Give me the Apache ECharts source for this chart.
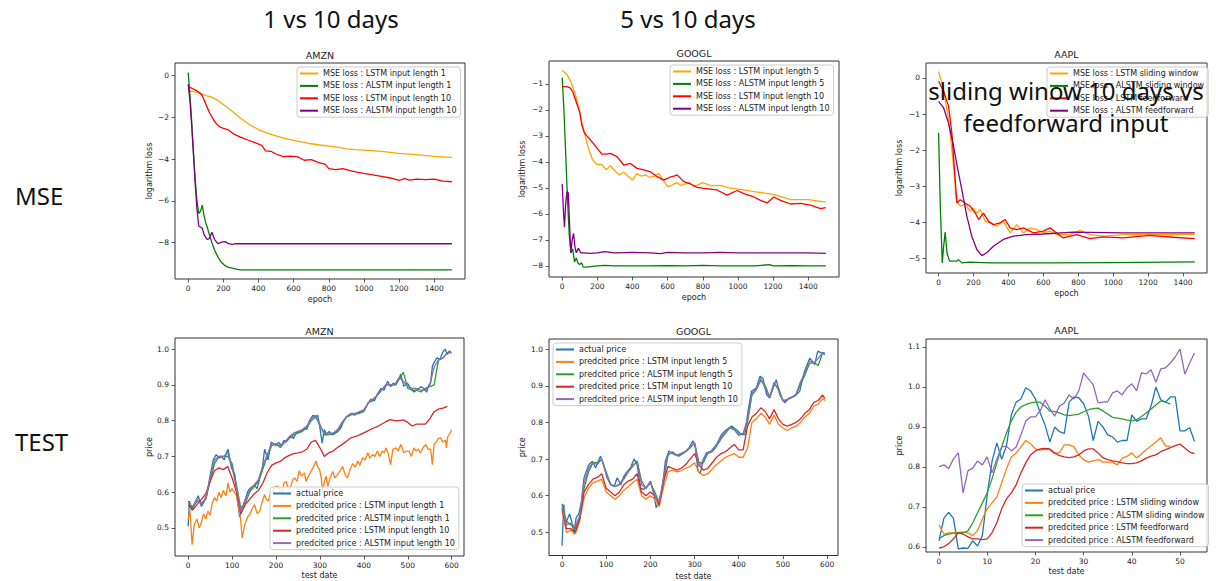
<!DOCTYPE html>
<html><head><meta charset="utf-8">
<script src="https://cdn.jsdelivr.net/npm/echarts@6/dist/echarts.min.js"></script>
<style>html,body{margin:0;padding:0;background:#fff}#c{width:1216px;height:581px}</style>
</head><body><div id="c"></div>
<script>
// ---------------- tick labels ----------------
const mseEpochTicks = [0,200,400,600,800,1000,1200,1400];
const amznMseYTicks = [0,-2,-4,-6,-8];
const googMseYTicks = [-1,-2,-3,-4,-5,-6,-7,-8];
const aaplMseYTicks = [0,-1,-2,-3,-4,-5];
const testDayTicks = [0,100,200,300,400,500,600];
const priceTicks = [0.5,0.6,0.7,0.8,0.9,1.0];
const aaplDayTicks = [0,10,20,30,40,50];
const aaplPriceTicks = [0.6,0.7,0.8,0.9,1.0,1.1];

// ---------------- AMZN MSE ----------------
const amznMseLstm1Epoch = [0,25,50,75,100,125,150,175,200,250,300,350,400,450,500,550,600,650,700,750,800,850,900,950,1000,1100,1200,1300,1400,1500];
const amznMseLstm1 = [-0.72,-0.75,-0.8,-0.86,-0.95,-1.0,-1.1,-1.22,-1.38,-1.7,-2.05,-2.35,-2.58,-2.75,-2.88,-3.0,-3.1,-3.18,-3.26,-3.32,-3.37,-3.42,-3.5,-3.54,-3.56,-3.62,-3.72,-3.78,-3.86,-3.91];
const amznMseAlstm1Epoch = [0,10,20,30,40,50,60,70,80,90,100,110,120,135,150,170,190,210,230,250,280,300,400,600,800,1000,1200,1400,1500];
const amznMseAlstm1 = [0.15,-0.9,-2.2,-3.6,-5.0,-6.0,-6.6,-6.5,-6.2,-6.7,-7.05,-7.3,-7.6,-8.0,-8.35,-8.7,-8.95,-9.1,-9.18,-9.22,-9.28,-9.3,-9.3,-9.3,-9.3,-9.3,-9.3,-9.3,-9.3];
const amznMseLstm10Epoch = [0,20,40,60,80,100,120,140,160,180,200,230,260,300,340,380,420,440,470,500,540,580,620,660,700,740,780,800,840,880,920,960,1000,1050,1100,1150,1200,1230,1260,1300,1350,1400,1450,1500];
const amznMseLstm10 = [-0.5,-0.6,-0.68,-0.78,-0.95,-1.35,-1.75,-2.05,-2.3,-2.45,-2.52,-2.6,-2.8,-2.95,-3.08,-3.2,-3.35,-3.6,-3.62,-3.75,-3.88,-3.85,-3.88,-4.05,-4.02,-4.15,-4.25,-4.45,-4.5,-4.45,-4.55,-4.62,-4.68,-4.75,-4.82,-4.9,-5.02,-4.93,-5.0,-4.95,-4.98,-4.95,-5.05,-5.08];
const amznMseAlstm10Epoch = [0,10,20,30,40,50,60,70,80,90,100,110,120,135,150,170,190,210,230,250,270,300,400,600,800,1000,1200,1400,1500];
const amznMseAlstm10 = [-0.4,-1.2,-2.4,-3.8,-5.2,-6.4,-7.2,-7.25,-7.3,-7.6,-7.75,-7.85,-7.8,-7.5,-7.85,-8.05,-7.97,-7.95,-8.05,-8.08,-8.05,-8.05,-8.05,-8.05,-8.05,-8.05,-8.05,-8.05,-8.05];

// ---------------- GOOGL MSE ----------------
const googMseLstm5Epoch = [0,25,50,75,100,125,150,175,200,225,250,275,300,325,350,375,400,425,450,475,500,525,550,575,600,625,650,675,700,725,750,800,850,900,950,1000,1050,1100,1150,1200,1250,1300,1350,1400,1450,1500];
const googMseLstm5 = [-0.48,-0.62,-0.92,-1.4,-2.1,-2.85,-3.5,-3.95,-4.1,-4.1,-4.3,-4.15,-4.35,-4.5,-4.4,-4.55,-4.7,-4.45,-4.55,-4.5,-4.6,-4.55,-4.45,-4.7,-4.95,-4.9,-4.8,-4.9,-4.85,-4.8,-4.95,-4.8,-4.92,-4.9,-5.0,-5.05,-5.1,-5.15,-5.2,-5.25,-5.35,-5.45,-5.45,-5.45,-5.5,-5.55];
const googMseAlstm5Epoch = [0,10,20,30,40,50,60,70,80,90,100,110,120,140,160,200,240,300,400,500,600,700,800,900,1000,1100,1180,1200,1300,1400,1500];
const googMseAlstm5 = [-0.75,-2.0,-3.7,-5.4,-6.8,-7.5,-7.35,-7.85,-7.7,-7.9,-7.95,-7.88,-8.05,-8.05,-8.03,-8.0,-7.98,-8.0,-8.0,-8.0,-7.99,-8.0,-7.98,-8.0,-8.0,-8.0,-7.95,-8.0,-7.99,-8.0,-8.0];
const googMseLstm10Epoch = [0,25,45,60,75,90,100,112,125,140,160,178,207,226,250,274,312,350,388,426,464,502,540,578,610,635,654,692,730,767,805,881,938,995,1033,1090,1128,1166,1204,1242,1299,1356,1413,1470,1500];
const googMseLstm10 = [-1.1,-1.1,-1.15,-1.3,-1.6,-1.9,-2.1,-2.6,-2.85,-3.0,-3.15,-3.3,-3.55,-3.7,-3.7,-3.67,-3.8,-4.12,-4.06,-4.25,-4.31,-4.38,-4.57,-4.7,-4.6,-4.55,-4.5,-4.76,-4.85,-4.98,-5.02,-5.08,-5.28,-5.1,-5.22,-5.35,-5.48,-5.58,-5.35,-5.48,-5.62,-5.6,-5.66,-5.8,-5.76];
const googMseAlstm10Epoch = [0,8,13,20,27,35,42,49,57,65,72,80,93,105,120,160,200,240,300,400,500,560,600,700,800,900,1000,1100,1200,1300,1400,1500];
const googMseAlstm10 = [-4.85,-6.0,-6.5,-5.6,-5.15,-5.2,-6.4,-7.5,-7.0,-6.75,-7.25,-7.5,-7.32,-7.5,-7.5,-7.52,-7.5,-7.45,-7.5,-7.48,-7.5,-7.53,-7.48,-7.5,-7.5,-7.48,-7.5,-7.5,-7.5,-7.5,-7.5,-7.52];

// ---------------- AAPL MSE ----------------
const aaplMseLstmSwEpoch = [0,29,57,86,101,124,152,181,200,219,238,267,295,333,371,410,448,486,524,562,600,638,676,752,810,867,943,1057,1248,1467];
const aaplMseLstmSw = [0.18,-0.32,-1.15,-2.44,-3.37,-3.55,-3.5,-3.69,-3.6,-3.74,-3.64,-3.97,-4.01,-4.1,-3.97,-4.29,-4.06,-4.29,-4.15,-4.2,-4.29,-4.24,-4.34,-4.34,-4.22,-4.34,-4.38,-4.34,-4.34,-4.34];
const aaplMseAlstmSwEpoch = [0,10,21,29,38,48,63,105,114,133,181,295,600,1000,1467];
const aaplMseAlstmSw = [-1.52,-3.55,-5.12,-4.66,-4.27,-4.84,-5.07,-5.07,-5.03,-5.12,-5.1,-5.12,-5.12,-5.11,-5.09];
const aaplMseLstmFfEpoch = [0,29,57,76,95,105,124,152,181,210,229,257,286,314,352,381,410,448,486,543,600,638,676,714,790,867,943,1057,1210,1343,1467];
const aaplMseLstmFf = [-0.09,-0.37,-0.78,-1.52,-2.81,-3.46,-3.37,-3.46,-3.55,-3.74,-3.92,-3.74,-3.97,-4.06,-4.01,-3.92,-4.15,-4.2,-4.15,-4.29,-4.24,-4.15,-4.29,-4.43,-4.34,-4.45,-4.4,-4.43,-4.36,-4.41,-4.45];
const aaplMseAlstmFfEpoch = [0,29,57,86,105,133,162,190,219,248,276,314,371,429,505,600,771,1057,1467];
const aaplMseAlstmFf = [-0.65,-0.83,-1.25,-1.89,-2.4,-3.09,-3.83,-4.38,-4.75,-4.92,-4.84,-4.66,-4.47,-4.38,-4.34,-4.32,-4.27,-4.29,-4.29];

// ---------------- AMZN TEST ----------------
const amznActualDays = [0,3,8,15,23,30,37,42,49,57,64,70,76,82,87,91,98,106,113,117,121,129,135,140,151,157,163,168,174,182,189,195,200,206,212,218,223,234,240,246,257,265,270,276,284,290,295,300,305,310,315,321,328,335,341,348,354,360,371,378,385,393,401,408,416,424,431,439,446,454,461,467,473,479,484,491,499,507,514,522,530,537,543,548,552,556,561,567,573,579,585,590,595,599];
const amznActual = [0.505,0.575,0.55,0.57,0.59,0.56,0.575,0.59,0.64,0.69,0.705,0.695,0.70,0.69,0.71,0.72,0.67,0.65,0.575,0.53,0.545,0.575,0.60,0.61,0.62,0.61,0.64,0.66,0.72,0.69,0.74,0.735,0.73,0.74,0.73,0.745,0.74,0.757,0.75,0.766,0.77,0.78,0.775,0.80,0.815,0.81,0.815,0.78,0.737,0.775,0.76,0.77,0.76,0.765,0.77,0.78,0.80,0.81,0.82,0.815,0.82,0.825,0.83,0.845,0.86,0.855,0.875,0.89,0.885,0.91,0.895,0.905,0.90,0.915,0.93,0.896,0.905,0.89,0.88,0.887,0.895,0.89,0.88,0.90,0.905,0.952,0.965,0.976,0.97,0.99,1.0,0.985,0.995,0.99];
const amznDays = [0,10,20,30,40,50,60,70,80,90,100,110,120,130,140,150,160,170,180,190,200,210,220,230,240,250,260,270,280,290,300,310,320,330,340,350,360,370,380,390,400,410,420,430,440,450,460,470,480,490,500,510,520,530,540,550,560,570,580,590,599];
const amznLstm1Days = [0,4,9,14,20,25,30,35,40,45,50,55,60,65,70,75,80,86,91,95,100,106,110,113,119,123,129,135,140,146,151,157,163,169,174,178,182,188,193,198,204,208,212,218,223,228,234,238,242,248,253,258,265,268,272,278,284,291,295,299,303,306,310,314,318,323,329,334,340,346,352,357,363,369,375,380,386,391,397,403,409,414,420,425,431,436,442,447,450,455,461,466,473,478,484,488,491,497,503,508,514,519,524,529,535,541,546,552,556,560,565,569,575,579,582,586,588,591,594,597,599];
const amznLstm1 = [0.523,0.55,0.453,0.51,0.525,0.50,0.515,0.54,0.525,0.547,0.535,0.57,0.585,0.575,0.60,0.585,0.605,0.59,0.626,0.60,0.61,0.598,0.59,0.565,0.528,0.472,0.51,0.53,0.537,0.555,0.565,0.54,0.547,0.575,0.593,0.58,0.575,0.60,0.60,0.615,0.617,0.60,0.593,0.625,0.63,0.61,0.617,0.635,0.64,0.63,0.66,0.645,0.654,0.63,0.64,0.655,0.668,0.687,0.67,0.664,0.64,0.60,0.63,0.645,0.616,0.64,0.658,0.64,0.649,0.66,0.672,0.65,0.64,0.665,0.68,0.67,0.687,0.675,0.696,0.69,0.71,0.695,0.705,0.70,0.715,0.70,0.715,0.71,0.724,0.71,0.677,0.72,0.724,0.715,0.733,0.72,0.71,0.715,0.715,0.70,0.724,0.715,0.72,0.71,0.725,0.733,0.72,0.72,0.677,0.735,0.74,0.75,0.752,0.74,0.743,0.745,0.724,0.755,0.761,0.765,0.775];
const amznAlstm1 = [0.575,0.555,0.575,0.57,0.58,0.63,0.68,0.70,0.70,0.70,0.68,0.62,0.555,0.57,0.60,0.615,0.63,0.665,0.70,0.73,0.735,0.725,0.74,0.75,0.76,0.765,0.77,0.78,0.80,0.81,0.79,0.76,0.76,0.765,0.77,0.79,0.81,0.815,0.82,0.82,0.825,0.85,0.855,0.87,0.885,0.90,0.90,0.90,0.915,0.935,0.89,0.885,0.885,0.88,0.89,0.895,0.90,0.97,0.975,0.99,0.99];
const amznLstm10 = [0.565,0.55,0.565,0.58,0.595,0.63,0.66,0.668,0.663,0.672,0.64,0.60,0.54,0.565,0.58,0.595,0.605,0.625,0.655,0.675,0.682,0.686,0.696,0.703,0.708,0.71,0.713,0.72,0.74,0.745,0.724,0.70,0.71,0.715,0.725,0.733,0.742,0.752,0.755,0.76,0.766,0.772,0.778,0.783,0.79,0.797,0.803,0.80,0.80,0.802,0.795,0.785,0.79,0.79,0.79,0.805,0.825,0.832,0.835,0.84,null];
const amznAlstm10 = [0.57,0.56,0.58,0.565,0.585,0.64,0.69,0.70,0.70,0.71,0.67,0.61,0.545,0.58,0.605,0.62,0.635,0.675,0.705,0.735,0.735,0.73,0.74,0.755,0.765,0.77,0.775,0.785,0.805,0.815,0.785,0.765,0.765,0.765,0.775,0.795,0.81,0.82,0.82,0.825,0.83,0.85,0.86,0.87,0.885,0.90,0.90,0.90,0.92,0.91,0.895,0.89,0.89,0.885,0.885,0.90,0.95,0.97,0.975,0.99,0.99];

// ---------------- GOOGL TEST ----------------
const googActualDays = [0,4,7,12,17,22,27,32,38,44,50,55,61,69,76,87,95,102,110,118,125,133,140,148,155,163,170,178,185,193,200,208,213,219,227,234,242,253,264,276,287,296,302,308,313,320,327,338,350,361,372,384,395,406,414,421,429,440,448,455,463,470,481,485,493,504,515,527,538,549,561,572,579,587,595];
const googActual = [0.463,0.576,0.52,0.535,0.55,0.53,0.495,0.54,0.55,0.585,0.65,0.667,0.685,0.694,0.676,0.708,0.68,0.649,0.63,0.625,0.649,0.63,0.653,0.667,0.676,0.70,0.685,0.62,0.617,0.626,0.64,0.604,0.567,0.585,0.62,0.695,0.722,0.713,0.708,0.717,0.73,0.75,0.73,0.667,0.66,0.70,0.717,0.722,0.74,0.767,0.78,0.79,0.78,0.767,0.767,0.83,0.885,0.895,0.926,0.92,0.876,0.867,0.904,0.917,0.876,0.854,0.867,0.872,0.885,0.94,0.976,0.958,0.995,0.99,0.99];
const googDays = [0,10,20,30,40,50,60,70,80,90,100,110,120,130,140,150,160,170,180,190,200,210,220,230,240,250,260,270,280,290,300,310,320,330,340,350,360,370,380,390,400,410,420,430,440,450,460,470,480,490,500,510,520,530,540,550,560,570,580,590,595];
const googLstm5 = [0.56,0.50,0.505,0.495,0.53,0.595,0.62,0.635,0.64,0.645,0.61,0.60,0.59,0.60,0.615,0.625,0.635,0.645,0.60,0.59,0.60,0.59,0.57,0.625,0.665,0.67,0.665,0.668,0.675,0.68,0.69,0.665,0.655,0.66,0.672,0.685,0.695,0.705,0.71,0.715,0.705,0.705,0.73,0.80,0.81,0.825,0.815,0.795,0.82,0.795,0.785,0.778,0.785,0.79,0.80,0.815,0.825,0.845,0.85,0.865,0.86];
const googAlstm5 = [0.578,0.53,0.52,0.51,0.535,0.62,0.665,0.69,0.69,0.70,0.665,0.63,0.625,0.63,0.645,0.665,0.68,0.695,0.64,0.62,0.635,0.61,0.58,0.64,0.71,0.72,0.71,0.715,0.72,0.73,0.745,0.69,0.69,0.715,0.72,0.735,0.755,0.77,0.785,0.78,0.765,0.77,0.80,0.875,0.89,0.915,0.90,0.87,0.905,0.895,0.86,0.862,0.868,0.875,0.905,0.93,0.96,0.965,0.955,0.99,0.985];
const googLstm10 = [0.565,0.51,0.51,0.50,0.54,0.61,0.63,0.645,0.65,0.66,0.62,0.61,0.60,0.61,0.63,0.64,0.645,0.66,0.61,0.60,0.61,0.60,0.575,0.64,0.68,0.675,0.67,0.675,0.685,0.70,0.715,0.685,0.67,0.675,0.69,0.705,0.715,0.72,0.73,0.74,0.725,0.725,0.79,0.815,0.825,0.84,0.83,0.81,0.835,0.81,0.795,0.79,0.795,0.80,0.81,0.825,0.835,0.855,0.86,0.875,0.865];
const googAlstm10 = [0.57,0.52,0.525,0.515,0.545,0.635,0.675,0.69,0.685,0.70,0.66,0.632,0.625,0.632,0.648,0.668,0.685,0.69,0.63,0.62,0.638,0.60,0.582,0.65,0.715,0.718,0.71,0.715,0.722,0.732,0.745,0.68,0.698,0.716,0.722,0.738,0.76,0.773,0.787,0.78,0.768,0.77,0.81,0.88,0.893,0.92,0.893,0.868,0.91,0.888,0.858,0.863,0.869,0.878,0.912,0.935,0.968,0.962,0.975,0.99,0.985];

// ---------------- AAPL TEST ----------------
const aaplDays = [0,1,2,3,4,5,6,7,8,9,10,11,12,13,14,15,16,17,18,19,20,21,22,23,24,25,26,27,28,29,30,31,32,33,34,35,36,37,38,39,40,41,42,43,44,45,46,47,48,49,50,51,52,53];
const aaplActual = [0.615,0.671,0.686,0.671,0.595,0.597,0.596,0.615,0.602,0.628,0.73,0.814,0.86,0.819,0.853,0.93,0.962,0.97,0.998,0.99,0.97,0.935,0.905,0.862,0.90,0.888,0.884,0.962,0.975,0.973,0.958,0.927,0.866,0.914,0.90,0.88,0.875,0.862,0.866,0.866,0.93,0.914,0.92,0.92,0.953,1.0,0.968,0.962,0.975,0.975,0.89,0.89,0.898,0.864];
const aaplLstmSw = [0.655,0.632,0.635,0.635,0.636,0.637,0.635,0.628,0.64,0.67,0.695,0.71,0.725,0.76,0.795,0.825,0.835,0.85,0.866,0.858,0.845,0.842,0.845,0.843,0.833,0.836,0.855,0.855,0.85,0.83,0.818,0.812,0.815,0.818,0.812,0.812,0.812,0.805,0.822,0.826,0.835,0.822,0.832,0.843,0.852,0.862,0.873,0.852,0.852];
const aaplAlstmSw = [0.62,0.628,0.632,0.634,0.635,0.635,0.64,0.66,0.685,0.71,0.735,0.77,0.81,0.85,0.885,0.915,0.937,0.95,0.956,0.96,0.962,0.962,0.952,0.94,0.938,0.935,0.93,0.928,0.93,0.932,0.938,0.943,0.946,0.947,0.94,0.932,0.924,0.922,0.92,0.917,0.915,0.918,0.926,0.935,0.945,0.955,0.965,0.962,0.957];
const aaplLstmFf = [0.597,0.60,0.608,0.62,0.635,0.632,0.625,0.62,0.62,0.618,0.62,0.635,0.66,0.695,0.72,0.735,0.755,0.785,0.81,0.83,0.84,0.845,0.846,0.845,0.835,0.828,0.825,0.823,0.825,0.83,0.84,0.845,0.845,0.835,0.823,0.818,0.815,0.813,0.81,0.808,0.808,0.81,0.815,0.822,0.827,0.83,0.838,0.843,0.848,0.853,0.857,0.847,0.837,0.833];
const aaplAlstmFf = [0.80,0.805,0.796,0.82,0.835,0.735,0.79,0.797,0.815,0.805,0.825,0.785,0.82,0.85,0.852,0.84,0.85,0.88,0.915,0.925,0.925,0.94,0.968,0.945,0.927,0.952,0.96,0.98,0.97,0.99,1.035,1.02,1.005,0.96,0.962,0.963,0.985,0.99,0.98,0.998,1.008,0.99,1.035,1.033,1.043,1.012,1.045,1.048,1.06,1.075,1.095,1.032,1.06,1.085];

// ---------------- build ----------------
const MC = {orange:'#ffa500', green:'#008000', red:'#ff0000', purple:'#800080'};
const TC = ['#1f77b4','#ff7f0e','#2ca02c','#d62728','#9467bd'];
function pairs(xs, ys){ const out=[]; const n=Math.min(xs.length, ys.length); for(let i=0;i<n;i++){ if(ys[i]!=null) out.push([xs[i], ys[i]]); } return out; }
const minusFmt = v => (v < 0 ? '\u2212' : '') + Math.abs(v);
const decFmt = v => (+v).toFixed(1);

const panels = [
 { grid:{left:175,top:63,width:290,height:216}, xr:[-75,1575], yr:[-9.74,0.61], xt:mseEpochTicks, yt:amznMseYTicks, fmt:minusFmt,
   xn:'epoch', yn:'logarithm loss', xg:16, yg:22, title:'AMZN', ty:55, lg:{left:297,top:67},
   series:[
    {name:'MSE loss : LSTM input length 1', color:MC.orange, x:amznMseLstm1Epoch, y:amznMseLstm1},
    {name:'MSE loss : ALSTM input length 1', color:MC.green, x:amznMseAlstm1Epoch, y:amznMseAlstm1},
    {name:'MSE loss : LSTM input length 10', color:MC.red, x:amznMseLstm10Epoch, y:amznMseLstm10},
    {name:'MSE loss : ALSTM input length 10', color:MC.purple, x:amznMseAlstm10Epoch, y:amznMseAlstm10}
   ]},
 { grid:{left:549,top:61,width:290,height:216}, xr:[-75,1575], yr:[-8.43,-0.117], xt:mseEpochTicks, yt:googMseYTicks, fmt:minusFmt,
   xn:'epoch', yn:'logarithm loss', xg:16, yg:23, title:'GOOGL', ty:53, lg:{left:670,top:65},
   series:[
    {name:'MSE loss : LSTM input length 5', color:MC.orange, x:googMseLstm5Epoch, y:googMseLstm5},
    {name:'MSE loss : ALSTM input length 5', color:MC.green, x:googMseAlstm5Epoch, y:googMseAlstm5},
    {name:'MSE loss : LSTM input length 10', color:MC.red, x:googMseLstm10Epoch, y:googMseLstm10},
    {name:'MSE loss : ALSTM input length 10', color:MC.purple, x:googMseAlstm10Epoch, y:googMseAlstm10}
   ]},
 { grid:{left:926,top:63,width:281,height:210}, xr:[-72,1537], yr:[-5.4,0.415], xt:mseEpochTicks, yt:aaplMseYTicks, fmt:minusFmt,
   xn:'epoch', yn:'logarithm loss', xg:16.5, yg:23, title:'AAPL', ty:54, lg:{left:1047,top:67},
   series:[
    {name:'MSE loss : LSTM sliding window', color:MC.orange, x:aaplMseLstmSwEpoch, y:aaplMseLstmSw},
    {name:'MSE loss : ALSTM sliding window', color:MC.green, x:aaplMseAlstmSwEpoch, y:aaplMseAlstmSw},
    {name:'MSE loss : LSTM feedforward', color:MC.red, x:aaplMseLstmFfEpoch, y:aaplMseLstmFf},
    {name:'MSE loss : ALSTM feedforward', color:MC.purple, x:aaplMseAlstmFfEpoch, y:aaplMseAlstmFf}
   ]},
 { grid:{left:175,top:338,width:289,height:218}, xr:[-30,628], yr:[0.4216,1.031], xt:testDayTicks, yt:priceTicks, fmt:decFmt,
   xn:'test date', yn:'price', xg:15.5, yg:22, title:'AMZN', ty:331, lg:{left:270,top:487},
   series:[
    {name:'actual price', color:TC[0], x:amznActualDays, y:amznActual},
    {name:'predcited price : LSTM input length 1', color:TC[1], x:amznLstm1Days, y:amznLstm1},
    {name:'predcited price : ALSTM input length 1', color:TC[2], x:amznDays, y:amznAlstm1},
    {name:'predcited price : LSTM input length 10', color:TC[3], x:amznDays, y:amznLstm10},
    {name:'predcited price : ALSTM input length 10', color:TC[4], x:amznDays, y:amznAlstm10}
   ]},
 { grid:{left:549,top:339,width:289,height:217}, xr:[-29.5,624.8], yr:[0.4366,1.028], xt:testDayTicks, yt:priceTicks, fmt:decFmt,
   xn:'test date', yn:'price', xg:16.5, yg:23, title:'GOOGL', ty:331, lg:{left:553,top:343},
   series:[
    {name:'actual price', color:TC[0], x:googActualDays, y:googActual},
    {name:'predcited price : LSTM input length 5', color:TC[1], x:googDays, y:googLstm5},
    {name:'predcited price : ALSTM input length 5', color:TC[2], x:googDays, y:googAlstm5},
    {name:'predcited price : LSTM input length 10', color:TC[3], x:googDays, y:googLstm10},
    {name:'predcited price : ALSTM input length 10', color:TC[4], x:googDays, y:googAlstm10}
   ]},
 { grid:{left:926,top:339,width:281,height:213}, xr:[-2.7,55.6], yr:[0.587,1.12], xt:aaplDayTicks, yt:aaplPriceTicks, fmt:decFmt,
   xn:'test date', yn:'price', xg:15, yg:23, title:'AAPL', ty:330, lg:{left:1022,top:484},
   series:[
    {name:'actual price', color:TC[0], x:aaplDays, y:aaplActual},
    {name:'predcited price : LSTM sliding window', color:TC[1], x:aaplDays, y:aaplLstmSw},
    {name:'predcited price : ALSTM sliding window', color:TC[2], x:aaplDays, y:aaplAlstmSw},
    {name:'predcited price : LSTM feedforward', color:TC[3], x:aaplDays, y:aaplLstmFf},
    {name:'predcited price : ALSTM feedforward', color:TC[4], x:aaplDays, y:aaplAlstmFf}
   ]}
];

const FONT = 'DejaVu Sans';
const txtColor = '#222';
const option = { animation:false, backgroundColor:'#ffffff', grid:[], xAxis:[], yAxis:[], series:[], legend:[], graphic:[] };

panels.forEach((p, i) => {
  option.grid.push(Object.assign({}, p.grid, {show:true, borderColor:'#333', borderWidth:1, backgroundColor:'transparent', containLabel:false}));
  const common = {
    type:'value', gridIndex:i, splitLine:{show:false},
    axisLine:{show:false, onZero:false},
    nameLocation:'middle', nameTextStyle:{fontFamily:FONT, fontSize:8, color:txtColor}
  };
  option.xAxis.push(Object.assign({}, common, {
    min:p.xr[0], max:p.xr[1], name:p.xn, nameGap:p.xg,
    axisTick:{show:true, length:3.5, lineStyle:{color:'#333', width:0.8}, customValues:p.xt},
    axisLabel:{customValues:p.xt, fontFamily:FONT, fontSize:7.5, color:txtColor, margin:5, formatter: p.fmt === decFmt ? (v => String(v)) : minusFmt}
  }));
  option.yAxis.push(Object.assign({}, common, {
    min:p.yr[0], max:p.yr[1], name:p.yn, nameGap:p.yg,
    axisTick:{show:true, length:3.5, lineStyle:{color:'#333', width:0.8}, customValues:p.yt},
    axisLabel:{customValues:p.yt, fontFamily:FONT, fontSize:7.5, color:txtColor, margin:6, formatter:p.fmt}
  }));
  p.series.forEach(s => {
    option.series.push({
      type:'line', name:s.name, xAxisIndex:i, yAxisIndex:i, data:pairs(s.x, s.y),
      showSymbol:false, symbol:'none', clip:true, silent:true,
      lineStyle:{width:1.3, color:s.color}, itemStyle:{color:s.color}, emphasis:{disabled:true}
    });
  });
  option.legend.push({
    left:p.lg.left, top:p.lg.top, orient:'vertical', selectedMode:false,
    data:p.series.map(s => s.name), icon:'rect', itemWidth:18, itemHeight:2, itemGap:3.4,
    padding:[2,4,2,3], backgroundColor:'rgba(255,255,255,0.8)', borderColor:'#cccccc', borderWidth:1, borderRadius:3,
    textStyle:{fontFamily:FONT, fontSize:8, color:txtColor, lineHeight:9}
  });
  option.graphic.push({type:'text', x:p.grid.left + p.grid.width/2, y:p.ty, silent:true,
    style:{text:p.title, font:'9.5px "DejaVu Sans"', fill:txtColor, align:'center', verticalAlign:'middle'}});
});

const headFont = '24px "Noto Sans", "Open Sans", sans-serif';
[
  {t:'1 vs 10 days', x:331, y:18, a:'center'},
  {t:'5 vs 10 days', x:688, y:18, a:'center'},
  {t:'MSE', x:15, y:195, a:'left'},
  {t:'TEST', x:15, y:441, a:'left'},
  {t:'sliding winow 10 days vs', x:1066, y:90, a:'center'},
  {t:'feedforward input', x:1066, y:122, a:'center'}
].forEach(h => option.graphic.push({type:'text', x:h.x, y:h.y, z:100, silent:true,
  style:{text:h.t, font:headFont, fill:'#111', align:h.a, verticalAlign:'middle'}}));

const chart = echarts.init(document.getElementById('c'), null, {renderer:'svg'});
chart.setOption(option);
</script></body></html>
